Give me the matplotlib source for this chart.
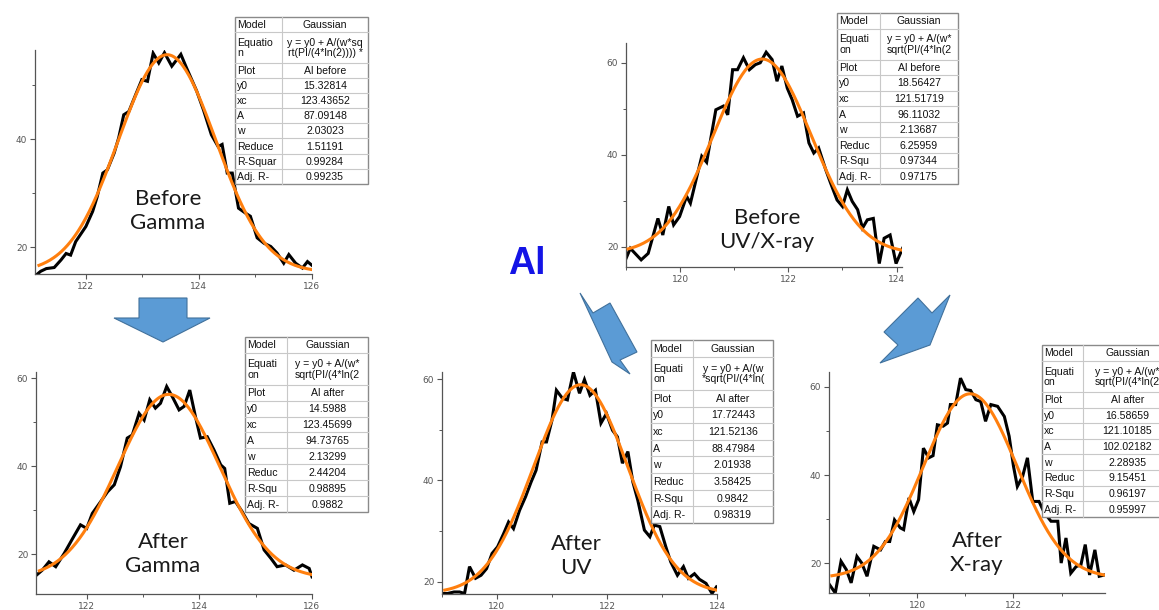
import numpy as np
import matplotlib
matplotlib.use("Agg")
import matplotlib.pyplot as plt
from matplotlib.patches import Polygon, Rectangle

W, H = 1159, 610

# ---- measured spectra (black) ----
x_bg = [121.12, 121.2, 121.3, 121.44, 121.56, 121.65, 121.73, 121.82, 122.0, 122.12, 122.2, 122.3,
        122.38, 122.5, 122.58, 122.67, 122.76, 122.88, 122.99, 123.09, 123.19, 123.29, 123.39, 123.52,
        123.68, 123.78, 123.96, 124.08, 124.22, 124.34, 124.41, 124.5, 124.59, 124.7, 124.82, 124.91,
        125.03, 125.15, 125.27, 125.38, 125.5, 125.59, 125.71, 125.83, 125.92, 126.0]
y_bg = [14.8, 15.5, 16.0, 16.2, 17.6, 18.8, 18.5, 21.0, 23.8, 26.6, 29.3, 33.7,
        34.3, 37.4, 40.2, 44.5, 45.1, 48.2, 51.0, 50.7, 55.9, 54.1, 56.0, 53.5,
        55.7, 53.2, 48.9, 45.4, 40.8, 38.6, 39.0, 33.7, 33.7, 27.2, 26.3, 25.7,
        21.7, 20.7, 20.1, 18.9, 17.0, 18.6, 17.0, 16.1, 17.3, 16.6]

x_bu = [118.99, 119.08, 119.28, 119.41, 119.59, 119.68, 119.79, 119.88, 119.99, 120.12, 120.19, 120.4,
        120.49, 120.66, 120.8, 120.88, 120.97, 121.06, 121.17, 121.28, 121.39, 121.48, 121.59, 121.7,
        121.79, 121.88, 121.98, 122.07, 122.17, 122.28, 122.38, 122.47, 122.56, 122.69, 122.78, 122.9,
        123.0, 123.09, 123.18, 123.28, 123.37, 123.46, 123.57, 123.68, 123.77, 123.88, 123.99, 124.11]
y_bu = [17.2, 19.7, 17.2, 18.6, 26.2, 22.6, 28.8, 24.8, 26.6, 31.0, 29.5, 39.7,
        38.4, 49.8, 50.6, 48.7, 58.5, 58.5, 61.1, 58.5, 59.6, 60.0, 62.3, 60.7,
        56.0, 59.3, 54.5, 52.0, 48.4, 49.1, 42.6, 40.4, 41.5, 36.8, 33.9, 30.2,
        28.8, 32.4, 29.9, 28.1, 24.1, 25.9, 26.2, 16.4, 21.9, 22.6, 16.4, 19.7]

x_ag = [121.11, 121.21, 121.33, 121.45, 121.6, 121.75, 121.89, 122.0, 122.1, 122.25, 122.37, 122.49,
        122.6, 122.72, 122.81, 122.93, 123.02, 123.12, 123.22, 123.31, 123.42, 123.52, 123.64, 123.73,
        123.83, 123.93, 124.02, 124.14, 124.26, 124.38, 124.45, 124.54, 124.64, 124.76, 124.88, 125.03,
        125.15, 125.27, 125.38, 125.53, 125.68, 125.83, 125.95, 126.0]
y_ag = [15.3, 16.4, 18.3, 17.2, 20.2, 23.6, 26.7, 25.9, 29.3, 32.0, 34.2, 35.8,
        39.9, 46.4, 47.1, 52.0, 50.5, 55.1, 53.2, 54.3, 58.1, 55.8, 52.8, 53.6,
        57.3, 51.3, 46.4, 46.7, 43.7, 40.3, 39.5, 31.6, 32.0, 29.7, 27.0, 25.9,
        21.0, 19.1, 17.2, 17.6, 16.4, 17.6, 16.8, 14.9]

x_uv = [119.0, 119.1, 119.22, 119.32, 119.41, 119.5, 119.61, 119.71, 119.81, 119.91, 120.01, 120.12,
        120.21, 120.3, 120.41, 120.52, 120.62, 120.71, 120.82, 120.9, 121.0, 121.08, 121.19, 121.28,
        121.39, 121.5, 121.59, 121.69, 121.79, 121.89, 121.99, 122.1, 122.19, 122.28, 122.38, 122.47,
        122.56, 122.68, 122.78, 122.86, 122.96, 123.07, 123.16, 123.28, 123.39, 123.48, 123.59, 123.68,
        123.8, 123.91, 123.99]
y_uv = [17.7, 17.7, 18.0, 18.0, 17.7, 23.0, 20.7, 21.3, 22.6, 25.6, 26.9, 29.5,
        31.8, 30.5, 34.1, 36.8, 39.7, 42.0, 47.6, 47.6, 51.9, 57.8, 56.2, 55.9,
        61.4, 57.2, 59.9, 56.8, 57.8, 51.3, 53.2, 49.9, 48.6, 43.4, 45.7, 39.7,
        36.1, 30.2, 28.9, 31.2, 30.9, 26.9, 23.9, 21.3, 23.0, 20.7, 21.6, 20.5,
        19.7, 17.7, 19.0]

x_xr = [118.18, 118.3, 118.42, 118.53, 118.63, 118.75, 118.85, 118.96, 119.1, 119.24, 119.34, 119.43,
        119.53, 119.65, 119.72, 119.83, 119.93, 120.03, 120.13, 120.24, 120.33, 120.42, 120.54, 120.63,
        120.69, 120.8, 120.9, 121.01, 121.11, 121.22, 121.32, 121.42, 121.53, 121.67, 121.81, 121.91,
        122.0, 122.08, 122.19, 122.29, 122.4, 122.53, 122.64, 122.78, 122.92, 122.99, 123.09, 123.19,
        123.3, 123.4, 123.49, 123.58, 123.69, 123.78, 123.89]
y_xr = [15.1, 13.2, 20.4, 18.5, 15.5, 21.5, 20.0, 17.0, 23.8, 23.0, 24.9, 24.9,
        29.8, 28.0, 27.6, 34.8, 31.7, 34.4, 46.1, 43.9, 44.4, 51.4, 51.1, 51.8,
        56.0, 56.0, 62.0, 59.4, 59.2, 57.1, 56.7, 52.2, 56.0, 55.6, 53.3, 48.8,
        42.0, 37.4, 39.7, 43.9, 34.0, 34.0, 31.4, 29.5, 29.5, 20.0, 25.7, 17.7,
        19.2, 19.6, 24.2, 17.3, 23.0, 17.0, 17.3]

# ---- Gaussian fit results ----
row_names_1 = ["Model", "Equatio\nn", "Plot", "y0", "xc", "A", "w", "Reduce", "R-Squar", "Adj. R-"]
row_names_2 = ["Model", "Equati\non", "Plot", "y0", "xc", "A", "w", "Reduc", "R-Squ", "Adj. R-"]

fit_bg = [15.32814, 123.43652, 87.09148, 2.03023, 1.51191, 0.99284, 0.99235]
fit_bu = [18.56427, 121.51719, 96.11032, 2.13687, 6.25959, 0.97344, 0.97175]
fit_ag = [14.5988, 123.45699, 94.73765, 2.13299, 2.44204, 0.98895, 0.9882]
fit_uv = [17.72443, 121.52136, 88.47984, 2.01938, 3.58425, 0.9842, 0.98319]
fit_xr = [16.58659, 121.10185, 102.02182, 2.28935, 9.15451, 0.96197, 0.95997]

fit_txt_bg = ["15.32814", "123.43652", "87.09148", "2.03023", "1.51191", "0.99284", "0.99235"]
fit_txt_bu = ["18.56427", "121.51719", "96.11032", "2.13687", "6.25959", "0.97344", "0.97175"]
fit_txt_ag = ["14.5988", "123.45699", "94.73765", "2.13299", "2.44204", "0.98895", "0.9882"]
fit_txt_uv = ["17.72443", "121.52136", "88.47984", "2.01938", "3.58425", "0.9842", "0.98319"]
fit_txt_xr = ["16.58659", "121.10185", "102.02182", "2.28935", "9.15451", "0.96197", "0.95997"]


def gauss(x, y0, xc, A, w):
    return y0 + A / (w * np.sqrt(np.pi / (4 * np.log(2)))) * np.exp(-4 * np.log(2) * (x - xc) ** 2 / w ** 2)


fig = plt.figure(figsize=(W / 100, H / 100), dpi=100)
fig.patch.set_facecolor("white")


def px_axes(l, r, t, b):
    return fig.add_axes([l / W, 1 - b / H, (r - l) / W, (b - t) / H])


def spectrum(box, xs, ys, fit, xlim, ylim, xmaj):
    ax = px_axes(*box)
    ax.plot(xs, ys, color="black", lw=2.2, zorder=2, solid_joinstyle="miter")
    xf = np.linspace(min(xs) + 0.05, max(xs), 300)
    ax.plot(xf, gauss(xf, *fit[:4]), color="#FF7F0E", lw=2.2, zorder=3)
    ax.set_xticks(xmaj)
    ax.set_xticks(np.arange(xmaj[0] - 2, xmaj[-1] + 2, 1.0), minor=True)
    ax.set_yticks([20, 40, 60])
    ax.set_yticks([10, 30, 50], minor=True)
    ax.set_xticklabels([str(v) for v in xmaj])
    ax.set_yticklabels(["20", "40", "60"])
    # limits after the ticks, set_ticks would widen the view
    ax.set_xlim(*xlim)
    ax.set_ylim(*ylim)
    for s in ["top", "right"]:
        ax.spines[s].set_visible(False)
    for s in ["left", "bottom"]:
        ax.spines[s].set_color("#555555")
        ax.spines[s].set_linewidth(0.9)
    ax.tick_params(which="major", length=3.5, width=0.8, color="#555555", labelsize=6.5,
                   labelcolor="#555555", pad=2)
    ax.tick_params(which="minor", length=2, width=0.7, color="#555555")
    ax.patch.set_alpha(0)
    return ax


spectrum((35, 312, 50, 274), x_bg, y_bg, fit_bg, (121.1, 126.0), (15, 56.5), [122, 124, 126])
spectrum((626, 902, 43, 267), x_bu, y_bu, fit_bu, (119.0, 124.1), (15.65, 64.3), [120, 122, 124])
spectrum((36, 312, 372, 594), x_ag, y_ag, fit_ag, (121.1, 126.0), (11, 61.4), [122, 124, 126])
spectrum((442, 717, 372, 594), x_uv, y_uv, fit_uv, (119.0, 124.0), (17.6, 61.4), [120, 122, 124])
spectrum((829, 1105, 372, 593), x_xr, y_xr, fit_xr, (118.17, 123.9), (13.2, 63.4), [120, 122])

# overlay in pixel units for the tables, arrows and captions
ov = fig.add_axes([0, 0, 1, 1], zorder=10)
ov.set_xlim(0, W)
ov.set_ylim(H, 0)
ov.axis("off")
ov.patch.set_alpha(0)

TFONT = dict(family="Liberation Sans", fontsize=7.6, color="#111111")


def fit_table(x0, xm, x1, y0, y1, names, equation, plot_name, values):
    units = [1, 2, 1, 1, 1, 1, 1, 1, 1, 1]
    rh = (y1 - y0) / sum(units)
    cells = ["Gaussian", equation, plot_name] + values
    ov.add_patch(Rectangle((x0, y0), x1 - x0, y1 - y0, facecolor="white", edgecolor="none"))
    y = y0
    for name, cell, u in zip(names, cells, units):
        h = rh * u
        if y > y0:
            ov.plot([x0, x1], [y, y], color="#c8c8c8", lw=0.8)
        ov.text(x0 + 2, y + h / 2 + 0.5, name, ha="left", va="center", linespacing=1.05, **TFONT)
        ov.text((xm + x1) / 2, y + h / 2 + 0.5, cell, ha="center", va="center", linespacing=1.05, **TFONT)
        y += h
    ov.plot([xm, xm], [y0, y1], color="#c8c8c8", lw=0.8)
    ov.add_patch(Rectangle((x0, y0), x1 - x0, y1 - y0, facecolor="none", edgecolor="#8a8a8a", lw=1.0))


fit_table(235, 282, 368, 17, 184, row_names_1, "y = y0 + A/(w*sq\nrt(PI/(4*ln(2)))) *", "Al before", fit_txt_bg)
fit_table(837, 880, 958, 13, 184, row_names_2, "y = y0 + A/(w*\nsqrt(PI/(4*ln(2", "Al before", fit_txt_bu)
fit_table(245, 287, 368, 337, 512, row_names_2, "y = y0 + A/(w*\nsqrt(PI/(4*ln(2", "Al after", fit_txt_ag)
fit_table(651, 693, 773, 340, 523, row_names_2, "y = y0 + A/(w\n*sqrt(PI/(4*ln(", "Al after", fit_txt_uv)
fit_table(1042, 1083, 1172, 345, 517, row_names_2, "y = y0 + A/(w*\nsqrt(PI/(4*ln(2", "Al after", fit_txt_xr)

# block arrows
ARROW = dict(facecolor="#5B9BD5", edgecolor="#41719C", lw=0.8, joinstyle="miter")
ov.add_patch(Polygon([(139, 298), (187, 298), (187, 318), (210, 318), (163, 342),
                      (114, 318), (139, 318)], closed=True, **ARROW))
ov.add_patch(Polygon([(580, 293), (593, 313), (610, 303), (637, 352), (620, 360),
                      (630, 374), (612, 362)], closed=True, **ARROW))
ov.add_patch(Polygon([(950, 295), (932, 313), (918, 298), (884, 332), (898, 345),
                      (880, 363), (930, 345)], closed=True, **ARROW))

# captions
CAP = dict(family="Lato", fontsize=16, color="#1a1a1a", ha="center", va="center", linespacing=1.2)
ov.text(168, 211, "Before\nGamma", **CAP)
ov.text(767, 230, "Before\nUV/X-ray", **CAP)
ov.text(163, 554, "After\nGamma", **CAP)
ov.text(576, 556, "After\nUV", **CAP)
ov.text(977, 553, "After\nX-ray", **CAP)

ov.text(527, 264, "Al", family="Liberation Sans", fontsize=27, fontweight="bold",
        color="#1414E6", ha="center", va="center")

fig.savefig("out.png", dpi=100, facecolor="white")
